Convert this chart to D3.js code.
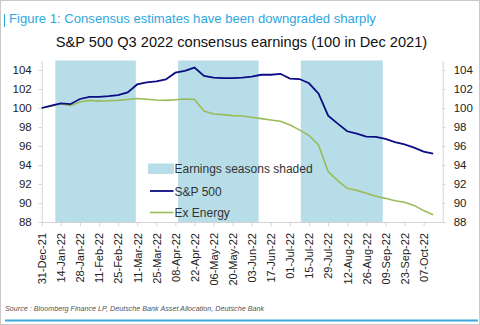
<!DOCTYPE html>
<html><head><meta charset="utf-8">
<script src="https://cdn.jsdelivr.net/npm/d3@7"></script>
<style>
html,body{margin:0;padding:0;background:#fff;}
svg{display:block;font-family:"Liberation Sans",Arial,sans-serif;}
</style></head>
<body><svg id="c" width="480" height="325"></svg>
<script>
// ---- data ----
const weeks = ["2021-12-31","2022-01-07","2022-01-14","2022-01-21","2022-01-28","2022-02-04","2022-02-11","2022-02-18","2022-02-25","2022-03-04","2022-03-11","2022-03-18","2022-03-25","2022-04-01","2022-04-08","2022-04-15","2022-04-22","2022-04-29","2022-05-06","2022-05-13","2022-05-20","2022-05-27","2022-06-03","2022-06-10","2022-06-17","2022-06-24","2022-07-01","2022-07-08","2022-07-15","2022-07-22","2022-07-29","2022-08-05","2022-08-12","2022-08-19","2022-08-26","2022-09-02","2022-09-09","2022-09-16","2022-09-23","2022-09-30","2022-10-07","2022-10-14"];
const sp500 = [100.0,100.25,100.48,100.4,100.95,101.18,101.18,101.25,101.35,101.65,102.48,102.7,102.8,103.0,103.72,103.9,104.25,103.37,103.2,103.15,103.15,103.2,103.3,103.5,103.5,103.6,103.1,103.05,102.6,101.5,99.2,98.35,97.55,97.3,96.98,96.95,96.74,96.4,96.18,95.82,95.4,95.19];
const exEnergy = [100.0,100.2,100.45,100.25,100.63,100.8,100.72,100.77,100.8,100.9,101.0,100.92,100.84,100.8,100.87,100.95,100.9,99.68,99.37,99.3,99.2,99.16,99.02,98.88,98.74,98.6,98.2,97.7,97.1,96.1,93.3,92.35,91.55,91.33,91.02,90.7,90.49,90.24,90.07,89.75,89.2,88.77];
const seasonStarts = ["2022-01-10","2022-04-10","2022-07-09"];
const seasonEnds   = ["2022-03-10","2022-06-08","2022-09-07"];
const xTickLabels = ["31-Dec-21","14-Jan-22","28-Jan-22","11-Feb-22","25-Feb-22","11-Mar-22","25-Mar-22","08-Apr-22","22-Apr-22","06-May-22","20-May-22","03-Jun-22","17-Jun-22","01-Jul-22","15-Jul-22","29-Jul-22","12-Aug-22","26-Aug-22","09-Sep-22","23-Sep-22","07-Oct-22"];
const yTicks = [88,90,92,94,96,98,100,102,104];
const xDomain = ["2021-12-31","2022-10-21"];
const yDomain = [88,105];

// ---- drawing ----
const parse = d3.timeParse("%Y-%m-%d");
const parseTick = d3.timeParse("%d-%b-%y");
const fmtTick = d3.timeFormat("%d-%b-%y");
const svg = d3.select("#c");
const L = 41.7, R = 442.7, T = 60.5, B = 222;
const x = d3.scaleTime().domain(xDomain.map(parse)).range([L, R]);
const y = d3.scaleLinear().domain(yDomain).range([B, T]);

// frame
svg.append("rect").attr("x",0.5).attr("y",0.5).attr("width",479).attr("height",324)
  .attr("fill","none").attr("stroke","#c9c9c9");
svg.append("line").attr("x1",4.5).attr("x2",4.5).attr("y1",14).attr("y2",27)
  .attr("stroke","#2ea7de").attr("stroke-width",1);
svg.append("text").attr("x",9).attr("y",23).attr("fill","#2ea7de")
  .style("font-size","13.1px").text("Figure 1: Consensus estimates have been downgraded sharply");
svg.append("text").attr("x",241.5).attr("y",47).attr("text-anchor","middle").attr("fill","#111")
  .style("font-size","14.6px").text("S&P 500 Q3 2022 consensus earnings (100 in Dec 2021)");

// shading
const shade = "#b7dde8";
svg.append("g").selectAll("rect").data(seasonStarts.map((s,i)=>[parse(s),parse(seasonEnds[i])]))
  .join("rect").attr("x",d=>x(d[0])).attr("width",d=>x(d[1])-x(d[0]))
  .attr("y",T).attr("height",B-T).attr("fill",shade);

// axes
const axisColor = "#d4d4d4";
function styleAxis(g){
  g.select(".domain").attr("stroke",axisColor);
  g.selectAll(".tick line").attr("stroke",axisColor);
  g.selectAll(".tick text").attr("fill","#222").style("font-size","11.5px")
   .style("font-family","'Liberation Sans',Arial,sans-serif");
}
const yl = svg.append("g").attr("transform",`translate(${L},0)`)
  .call(d3.axisLeft(y).tickValues(yTicks).tickSize(3).tickPadding(7).tickSizeOuter(0));
styleAxis(yl);
const yr = svg.append("g").attr("transform",`translate(${R},0)`)
  .call(d3.axisRight(y).tickValues(yTicks).tickSize(3).tickPadding(8).tickSizeOuter(0));
styleAxis(yr);
const xa = svg.append("g").attr("transform",`translate(0,${B})`)
  .call(d3.axisBottom(x).tickValues(xTickLabels.map(parseTick)).tickFormat(fmtTick).tickSize(4).tickSizeOuter(0));
styleAxis(xa);
xa.selectAll(".tick text").attr("transform","rotate(-90)").attr("text-anchor","end")
  .attr("x",-11).attr("y",0).attr("dy","0.35em").style("font-size","11px");

// lines
const line = vals => d3.line().x((d,i)=>x(parse(weeks[i]))).y(d=>y(d))(vals);
svg.append("path").attr("d",line(exEnergy)).attr("fill","none").attr("stroke","#9bbb59").attr("stroke-width",1.6);
svg.append("path").attr("d",line(sp500)).attr("fill","none").attr("stroke","#0c0c84").attr("stroke-width",1.8);

// legend
const lg = svg.append("g").style("font-size","12px").attr("fill","#333");
lg.append("rect").attr("x",148).attr("y",163.5).attr("width",26).attr("height",10.5).attr("fill",shade);
lg.append("text").attr("x",174.5).attr("y",173).attr("fill","#333").text("Earnings seasons shaded");
lg.append("line").attr("x1",150).attr("x2",173.5).attr("y1",191).attr("y2",191).attr("stroke","#0c0c84").attr("stroke-width",1.8);
lg.append("text").attr("x",174.5).attr("y",195.5).attr("fill","#333").text("S&P 500");
lg.append("line").attr("x1",150).attr("x2",173.5).attr("y1",212.5).attr("y2",212.5).attr("stroke","#9bbb59").attr("stroke-width",1.6);
lg.append("text").attr("x",174.5).attr("y",217).attr("fill","#333").text("Ex Energy");

// source + bottom bar
svg.append("text").attr("x",5).attr("y",311).attr("fill","#555").style("font-style","italic")
  .style("font-size","7.2px").text("Source : Bloomberg Finance LP, Deutsche Bank Asset Allocation, Deutsche Bank");
svg.append("line").attr("x1",5).attr("x2",478).attr("y1",320.5).attr("y2",320.5)
  .attr("stroke","#3aa9dd").attr("stroke-width",2);
</script></body></html>
